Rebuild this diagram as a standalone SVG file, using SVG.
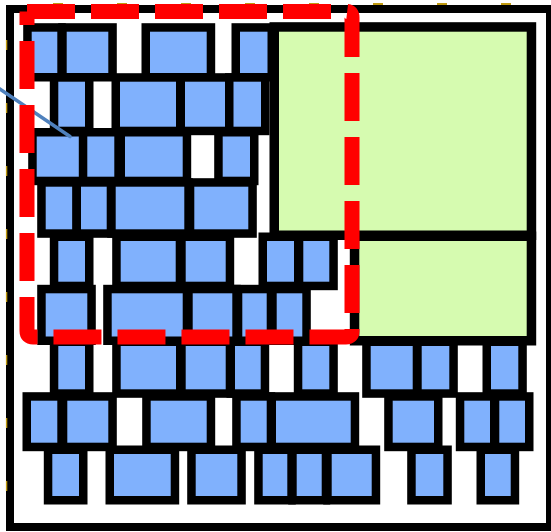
<svg xmlns="http://www.w3.org/2000/svg" width="551" height="532" viewBox="0 0 551 532">
<style>
.b{fill:#80b1fd;stroke:#000;stroke-width:8.5}
.g{fill:#d6fbb0;stroke:#000;stroke-width:9.5}
.frame{fill:none;stroke:#000;stroke-width:8}
.ydash{fill:none;stroke:#c09a10}
.sel{fill:none;stroke:#ff0000;stroke-width:15;stroke-dasharray:48 16;stroke-linecap:butt;stroke-linejoin:round}
.conn{stroke:#4f81bd;stroke-width:3.5;stroke-linecap:round}
</style>
<rect width="551" height="532" fill="#fff"/>
<g id="outer-frame">
<rect class="frame" x="10" y="9" width="540" height="518"/>
<line class="ydash" x1="6.6" y1="0" x2="6.6" y2="532" stroke-width="1.4" stroke-dasharray="10 53" stroke-dashoffset="23"/>
<line class="ydash" x1="0" y1="4" x2="551" y2="4" stroke-width="2" stroke-dasharray="10 54" stroke-dashoffset="11"/>
</g>
<g id="blocks">
<g id="r1-1"><rect class="b" x="27.45" y="27.45" width="34.1" height="49.8"/></g>
<g id="r1-2"><rect class="b" x="62.45" y="27.45" width="50.1" height="49.8"/></g>
<g id="r1-3"><rect class="b" x="145.75" y="27.45" width="65.2" height="49.8"/></g>
<g id="r1-4"><rect class="b" x="235.75" y="27.45" width="36" height="49.8"/></g>
<g id="r2-1"><rect class="b" x="54.05" y="77.45" width="35.2" height="53.5"/></g>
<g id="r2-2"><rect class="b" x="115.75" y="77.45" width="64.5" height="53.5"/></g>
<g id="r2-3"><rect class="b" x="180.75" y="77.45" width="49.2" height="53.5"/></g>
<g id="r2-4"><rect class="b" x="229.25" y="77.45" width="36" height="53.5"/></g>
<g id="r3-1"><rect class="b" x="32.45" y="132.25" width="50.8" height="48.7"/></g>
<g id="r3-2"><rect class="b" x="83.05" y="132.25" width="35.5" height="48.7"/></g>
<g id="r3-3"><rect class="b" x="120.75" y="132.25" width="66.2" height="48.7"/></g>
<g id="r3-4"><rect class="b" x="218.45" y="132.25" width="35.8" height="48.7"/></g>
<g id="r4-1"><rect class="b" x="41.45" y="182.45" width="35.1" height="51.1"/></g>
<g id="r4-2"><rect class="b" x="76.75" y="182.45" width="34.2" height="51.1"/></g>
<g id="r4-3"><rect class="b" x="111.45" y="182.45" width="77.1" height="51.1"/></g>
<g id="r4-4"><rect class="b" x="190.05" y="182.45" width="62.5" height="51.1"/></g>
<g id="r5-1"><rect class="b" x="54.05" y="236.75" width="35.2" height="49.2"/></g>
<g id="r5-2"><rect class="b" x="116.45" y="236.75" width="63.5" height="49.2"/></g>
<g id="r5-3"><rect class="b" x="181.45" y="236.75" width="48.5" height="49.2"/></g>
<g id="r5-4"><rect class="b" x="262.75" y="236.75" width="35.5" height="49.2"/></g>
<g id="r5-5"><rect class="b" x="299.05" y="236.75" width="34.5" height="49.2"/></g>
<g id="r6-1"><rect class="b" x="41.45" y="289.05" width="50.1" height="51.7"/></g>
<g id="r6-2"><rect class="b" x="107.45" y="289.05" width="79.5" height="51.7"/></g>
<g id="r6-3"><rect class="b" x="188.45" y="289.05" width="48.1" height="51.7"/></g>
<g id="r6-4"><rect class="b" x="238.05" y="289.05" width="32.9" height="51.7"/></g>
<g id="r6-5"><rect class="b" x="272.45" y="289.05" width="34.1" height="51.7"/></g>
<g id="r7-1"><rect class="b" x="54.05" y="341.75" width="35.2" height="51.8"/></g>
<g id="r7-2"><rect class="b" x="116.45" y="341.75" width="63.8" height="51.8"/></g>
<g id="r7-3"><rect class="b" x="181.45" y="341.75" width="48.5" height="51.8"/></g>
<g id="r7-4"><rect class="b" x="230.75" y="341.75" width="34.2" height="51.8"/></g>
<g id="r7-5"><rect class="b" x="298.05" y="341.75" width="35.5" height="51.8"/></g>
<g id="r7-6"><rect class="b" x="366.45" y="341.75" width="50.5" height="51.8"/></g>
<g id="r7-7"><rect class="b" x="417.45" y="341.75" width="36.1" height="51.8"/></g>
<g id="r7-8"><rect class="b" x="486.75" y="341.75" width="35.8" height="51.8"/></g>
<g id="r8-1"><rect class="b" x="26.75" y="396.45" width="34.8" height="50.5"/></g>
<g id="r8-2"><rect class="b" x="63.05" y="396.45" width="49.5" height="50.5"/></g>
<g id="r8-3"><rect class="b" x="146.45" y="396.45" width="64.5" height="50.5"/></g>
<g id="r8-4"><rect class="b" x="236.45" y="396.45" width="34.5" height="50.5"/></g>
<g id="r8-5"><rect class="b" x="271.75" y="396.45" width="83.2" height="50.5"/></g>
<g id="r8-6"><rect class="b" x="388.45" y="396.45" width="49.8" height="50.5"/></g>
<g id="r8-7"><rect class="b" x="460.05" y="396.45" width="34.2" height="50.5"/></g>
<g id="r8-8"><rect class="b" x="495.05" y="396.45" width="34.2" height="50.5"/></g>
<g id="r9-1"><rect class="b" x="48.05" y="449.75" width="35.2" height="50.5"/></g>
<g id="r9-2"><rect class="b" x="109.75" y="449.75" width="65.2" height="50.5"/></g>
<g id="r9-3"><rect class="b" x="191.45" y="449.75" width="50.1" height="50.5"/></g>
<g id="r9-4"><rect class="b" x="258.45" y="449.75" width="33.1" height="50.5"/></g>
<g id="r9-5"><rect class="b" x="292.45" y="449.75" width="33.5" height="50.5"/></g>
<g id="r9-6"><rect class="b" x="327.45" y="449.75" width="48.5" height="50.5"/></g>
<g id="r9-7"><rect class="b" x="411.45" y="449.75" width="36.1" height="50.5"/></g>
<g id="r9-8"><rect class="b" x="480.75" y="449.75" width="34.2" height="50.5"/></g>
</g>
<g id="green-1"><rect class="g" x="274.25" y="26.95" width="257.2" height="208.3"/></g>
<g id="green-2"><rect class="g" x="354.55" y="236.25" width="176.9" height="104.5"/></g>
<g id="connectors">
<line class="conn" x1="-2" y1="87.7" x2="70" y2="136.5"/>
</g>
<g id="selection">
<path class="sel" d="M27,11.5 H346 Q352,11.5 352,17.5 V331 Q352,337 346,337 H33 Q27,337 27,331 V11.5"/>
</g>
</svg>
